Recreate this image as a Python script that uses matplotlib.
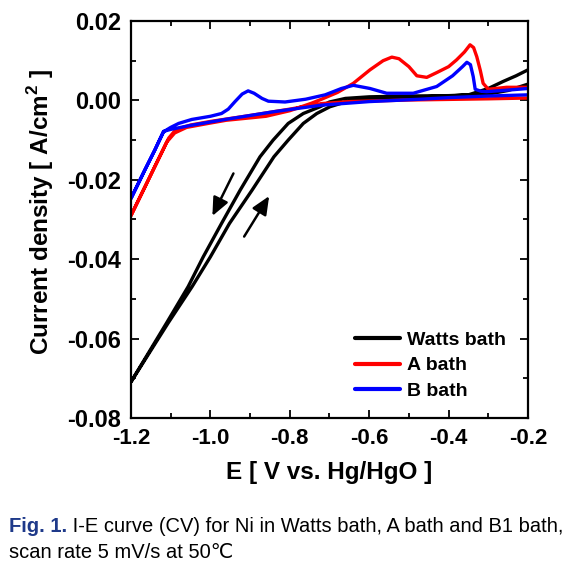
import matplotlib
matplotlib.use("Agg")
import matplotlib.pyplot as plt
from matplotlib.ticker import MultipleLocator, FormatStrFormatter

# ---------------- data ----------------
watts_cath_E = [-0.20, -0.25, -0.30, -0.40, -0.50, -0.60, -0.66, -0.70, -0.724, -0.766,
                -0.804, -0.842, -0.875, -0.925, -0.972, -1.018, -1.056, -1.11, -1.20]
watts_cath_I = [0.0041, 0.0025, 0.0016, 0.0012, 0.0011, 0.0009, 0.0005, -0.0004, -0.0016, -0.0033,
                -0.0058, -0.0100, -0.0142, -0.0226, -0.0310, -0.0394, -0.0469, -0.0560, -0.0709]
watts_anod_E = [-1.20, -1.106, -1.046, -1.000, -0.952, -0.895, -0.840, -0.804, -0.766, -0.732,
                -0.699, -0.66, -0.60, -0.50, -0.40, -0.35, -0.30, -0.262, -0.23, -0.20]
watts_anod_I = [-0.0709, -0.0560, -0.0469, -0.0394, -0.0310, -0.0226, -0.0142, -0.0100, -0.0058, -0.0033,
                -0.0016, -0.0004, 0.0004, 0.0008, 0.0011, 0.0014, 0.0030, 0.0048, 0.0062, 0.0077]

a_cath_E = [-0.20, -0.30, -0.50, -0.65, -0.72, -0.80, -0.90, -1.00, -1.05, -1.07, -1.09,
            -1.105, -1.144, -1.20]
a_cath_I = [0.0006, 0.0004, 0.0001, -0.0003, -0.0008, -0.0022, -0.0038, -0.0053, -0.0062, -0.0068, -0.0077,
            -0.0095, -0.0175, -0.0290]
a_anod_E = [-1.20, -1.144, -1.11, -1.09, -1.06, -1.00, -0.96, -0.86, -0.80, -0.745, -0.72, -0.68,
            -0.64, -0.598, -0.565, -0.543, -0.525, -0.50, -0.48, -0.455, -0.43, -0.40, -0.38,
            -0.36, -0.346, -0.337, -0.329, -0.32, -0.313, -0.30, -0.254, -0.20]
a_anod_I = [-0.0290, -0.0175, -0.0105, -0.0082, -0.0068, -0.0057, -0.0050, -0.0040, -0.0026, -0.0007, 0.0003, 0.0020,
            0.0043, 0.0077, 0.0100, 0.0109, 0.0105, 0.0085, 0.0062, 0.0058, 0.0070, 0.0085, 0.0102,
            0.0122, 0.0140, 0.0133, 0.0110, 0.0075, 0.0043, 0.0028, 0.0033, 0.0033]

b_cath_E = [-0.20, -0.30, -0.40, -0.47, -0.60, -0.72, -0.837, -0.963, -1.05, -1.10, -1.118,
            -1.14, -1.165, -1.20]
b_cath_I = [0.0014, 0.0011, 0.0007, 0.0003, -0.0003, -0.0012, -0.0028, -0.0048, -0.0063, -0.0073, -0.0078,
            -0.0125, -0.0175, -0.0247]
b_anod_E = [-1.20, -1.165, -1.14, -1.118, -1.10, -1.08, -1.047, -1.00, -0.972, -0.955, -0.938,
            -0.92, -0.905, -0.89, -0.87, -0.854, -0.812, -0.76, -0.711, -0.67, -0.64, -0.598,
            -0.556, -0.489, -0.43, -0.39, -0.365, -0.354, -0.345, -0.338, -0.333, -0.318,
            -0.304, -0.25, -0.20]
b_anod_I = [-0.0247, -0.0175, -0.0125, -0.0079, -0.0068, -0.0058, -0.0048, -0.0040, -0.0033, -0.0022, -0.0003,
            0.0016, 0.0024, 0.0018, 0.0005, -0.0002, -0.0004, 0.0003, 0.0014, 0.0030, 0.0038, 0.0030,
            0.0018, 0.0018, 0.0035, 0.0062, 0.0085, 0.0096, 0.0090, 0.0060, 0.0028, 0.0023,
            0.0022, 0.0026, 0.0030]

series_labels = ["Watts bath", "A bath", "B bath"]
series_colors = ["#000000", "#ff0000", "#0000ff"]

arrow_down = [(-0.942, -0.0184), (-0.995, -0.0291)]   # (start, end)
arrow_up = [(-0.915, -0.0343), (-0.852, -0.0241)]

x_ticks = [-1.2, -1.0, -0.8, -0.6, -0.4, -0.2]
y_ticks = [-0.08, -0.06, -0.04, -0.02, 0.00, 0.02]

xlabel = "E [ V vs. Hg/HgO ]"
ylabel = r"Current density [ A/cm$^{\mathbf{2}}$ ]"
caption_head = "Fig. 1."
caption_rest = " I-E curve (CV) for Ni in Watts bath, A bath and B1 bath,"
caption_line2 = "scan rate 5 mV/s at 50℃"

# ---------------- figure ----------------
plt.rcParams["font.family"] = ["Liberation Sans", "DejaVu Sans"]
plt.rcParams["mathtext.fontset"] = "custom"
plt.rcParams["mathtext.rm"] = "Liberation Sans"
plt.rcParams["mathtext.bf"] = "Liberation Sans:bold"
fig = plt.figure(figsize=(5.82, 5.71), dpi=100)
ax = fig.add_axes([131 / 582, 1 - 418 / 571, 397 / 582, 397 / 571])

curves = [(watts_cath_E + watts_anod_E, watts_cath_I + watts_anod_I),
          (a_cath_E + a_anod_E, a_cath_I + a_anod_I),
          (b_cath_E + b_anod_E, b_cath_I + b_anod_I)]
for (E, I), lab, col in zip(curves, series_labels, series_colors):
    ax.plot(E, I, color=col, lw=2.4, label=lab, solid_joinstyle="round", solid_capstyle="round")

for (s, e) in (arrow_down, arrow_up):
    ax.annotate("", xy=e, xytext=s,
                arrowprops=dict(arrowstyle="-|>,head_length=0.5,head_width=0.22", color="black",
                                lw=1.8, mutation_scale=22, shrinkA=0, shrinkB=0))

ax.set_xlim(-1.2, -0.2)
ax.set_ylim(-0.08, 0.02)
ax.set_xticks(x_ticks)
ax.set_yticks(y_ticks)
ax.xaxis.set_minor_locator(MultipleLocator(0.1))
ax.yaxis.set_minor_locator(MultipleLocator(0.01))
ax.xaxis.set_major_formatter(FormatStrFormatter("%.1f"))
ax.yaxis.set_major_formatter(FormatStrFormatter("%.2f"))
ax.tick_params(which="both", direction="in", top=True, right=True, width=1.3)
ax.tick_params(which="major", length=6, pad=7)
ax.tick_params(axis="x", which="major", labelsize=16)
ax.tick_params(axis="y", which="major", labelsize=17)
ax.tick_params(which="minor", length=3.5)
for lbl in ax.get_xticklabels() + ax.get_yticklabels():
    lbl.set_fontweight("bold")
for sp in ax.spines.values():
    sp.set_linewidth(1.6)

ax.set_xlabel(xlabel, fontsize=17.5, fontweight="bold")
ax.set_ylabel(ylabel, fontsize=17.5, fontweight="bold")
ax.xaxis.set_label_coords(0.5, -0.108)
ax.yaxis.set_label_coords(-0.19, 0.52)

leg = ax.legend(loc="upper left", bbox_to_anchor=(0.565, 0.218), frameon=False,
                prop=dict(weight="bold", size=14), handlelength=2.3, handletextpad=0.35,
                labelspacing=0.4, borderpad=0, borderaxespad=0)
for h in leg.get_lines():
    h.set_linewidth(3)

cap_fs = 14.5
t1 = fig.text(9 / 582, 1 - 527 / 571, caption_head, color="#1f3a8a", fontweight="bold",
              fontsize=cap_fs, va="center", ha="left")
fig.canvas.draw()
bb = t1.get_window_extent()
fig.text(bb.x1 / fig.bbox.width, 1 - 527 / 571, caption_rest, color="black",
         fontsize=cap_fs, va="center", ha="left")
fig.text(9 / 582, 1 - 552 / 571, caption_line2, color="black",
         fontsize=cap_fs, va="center", ha="left")

fig.savefig("out.png", dpi=100)
